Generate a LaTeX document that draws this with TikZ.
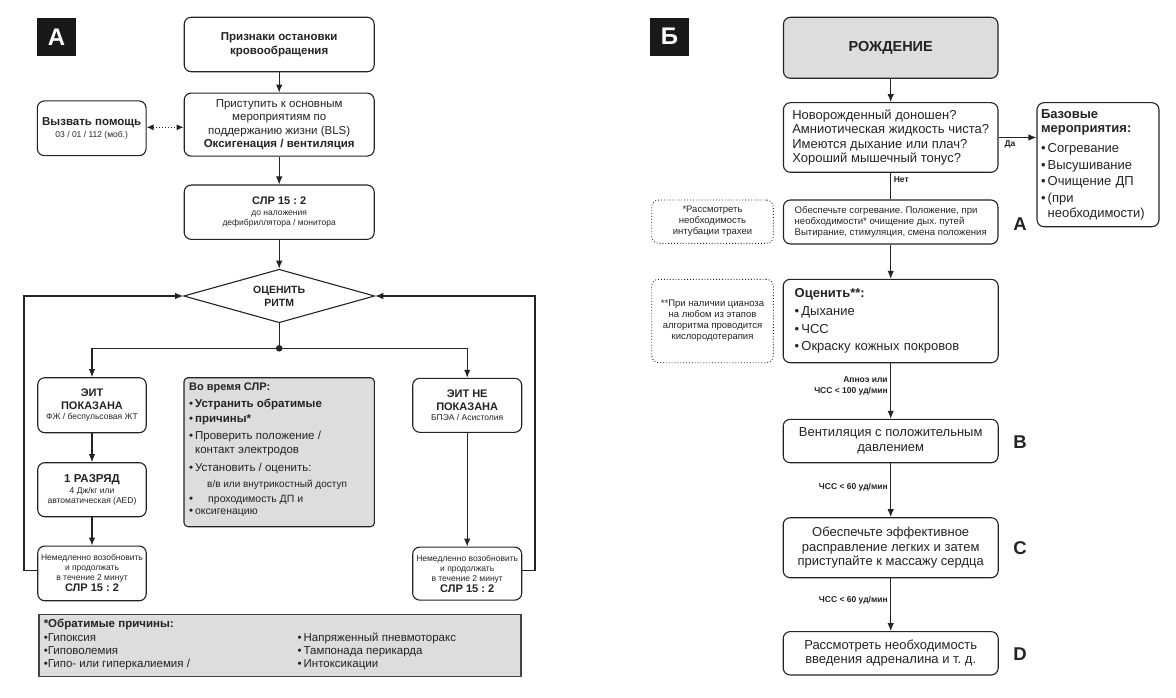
\documentclass[tikz,border=0pt]{standalone}
\usepackage{fontspec}
\setmainfont{Liberation Sans}
\usetikzlibrary{arrows.meta,shapes.geometric}
\definecolor{boxgray}{RGB}{221,221,221}
\definecolor{ink}{RGB}{35,35,35}
\newcommand\myfs[2]{\fontsize{#1}{#2}\selectfont}
\newcommand\bigb[1]{{\myfs{11}{13}\bfseries #1}}
\newcommand\bigc[1]{{\myfs{11.5}{13}\bfseries #1}}
\begin{document}
\frenchspacing
\begin{tikzpicture}[x=1pt,y=-1pt,
  box/.style={draw=ink, line width=1.1pt, rounded corners=7pt, align=center, inner sep=2pt, anchor=center, text=ink},
  dotbox/.style={draw=ink, line width=0.9pt, dotted, rounded corners=7pt, align=center, inner sep=2pt, text=ink},
  gbox/.style={box, fill=boxgray},
  arr/.style={draw=ink, line width=1.1pt, -{Latex[length=8pt,width=6.5pt]}},
  dotarr/.style={draw=ink, line width=1pt, dotted, {Latex[length=7pt,width=6pt]}-{Latex[length=7pt,width=6pt]}},
  ln/.style={draw=ink, line width=1.1pt},
  tag/.style={fill=black!90, text=white, font=\myfs{24}{24}\bfseries, minimum width=39pt, minimum height=38pt, inner sep=0pt},
  letter/.style={font=\myfs{18.5}{18.5}\bfseries, text=ink, inner sep=0pt},
  lbl/.style={font=\myfs{8.5}{10.5}\bfseries, text=ink, inner sep=2.5pt},
  sm/.style={font=\myfs{8.5}{10}}
]
\useasboundingbox (0,0) rectangle (1176,698);

% ---------------- Panel A ----------------
\node[tag] (tA) at (56.5,37) {А};

\node[box, minimum width=190pt, minimum height=54.5pt, font=\myfs{11.5}{13.5}\bfseries] (sign) at (279.2,44.5) {Признаки остановки\\кровообращения};

\node[box, minimum width=190pt, minimum height=63pt, font=\myfs{11.5}{13.3}] (bls) at (279.2,124.6) {Приступить к основным\\мероприятиям по\\поддержанию жизни (BLS)\\\textbf{Оксигенация / вентиляция}};

\node[box, sm, minimum width=108.7pt, minimum height=54.7pt] (help) at (91.7,128.3) {\bigc{Вызвать помощь}\\[2pt]03 / 01 / 112 (моб.)};

\node[box, sm, minimum width=190pt, minimum height=54.3pt] (cpr) at (279.2,212.2) {\bigb{СЛР 15 : 2}\\[1pt]до наложения\\дефибриллятора / монитора};

\node[draw=ink, line width=1.1pt, diamond, aspect=3.57, minimum width=191pt, minimum height=53.5pt, inner sep=0pt, font=\myfs{10.5}{12.7}\bfseries, align=center, text=ink] (diam) at (279.2,296) {ОЦЕНИТЬ\\РИТМ};

\coordinate (dot) at (279.2,348.3);
\coordinate (lx) at (24,296);
\coordinate (rx) at (535,296);

\node[box, sm, minimum width=108.5pt, minimum height=55pt] (eit1) at (92,405.2) {\bigb{ЭИТ}\\[2.5pt]\bigb{ПОКАЗАНА}\\[0.5pt]ФЖ / беспульсовая ЖТ};

\node[box, sm, minimum width=108.5pt, minimum height=54pt] (shock) at (92,489.7) {\bigc{1 РАЗРЯД}\\[1pt]4 Дж/кг или\\автоматическая (AED)};

\node[box, sm, minimum width=108.5pt, minimum height=54.7pt] (imm1) at (92,573.4) {Немедленно возобновить\\и продолжать\\в течение 2 минут\\[1pt]\bigb{СЛР 15 : 2}};

\node[gbox, rounded corners=4pt, minimum width=190.4pt, minimum height=149pt, inner sep=4pt, align=left] (during) at (279.2,452.2) {\begin{minipage}[c][141pt][t]{180pt}\raggedright\myfs{11.5}{14.5}
\vspace*{1.5pt}
{\bfseries\myfs{11}{14.5}Во время СЛР:}\\[2.5pt]
•\,\textbf{Устранить обратимые}\\
•\,\textbf{причины*}\\[2.5pt]
•\,Проверить положение /\\
\hphantom{•\,}контакт электродов\\[3.5pt]
•\,Установить / оценить:\\[1.5pt]
{\myfs{10}{14.5}\hspace*{18pt}в/в или внутрикостный доступ}\\
•{\myfs{10.5}{14.5}\hspace*{15pt}проходимость ДП и}\\[-2.5pt]
•\,{\myfs{10.5}{14.5}оксигенацию}
\end{minipage}};

\node[box, sm, minimum width=109pt, minimum height=54pt] (eit2) at (467.2,405.3) {\bigb{ЭИТ НЕ}\\[2.5pt]\bigb{ПОКАЗАНА}\\[0.5pt]БПЭА / Асистолия};

\node[box, sm, minimum width=109pt, minimum height=53pt] (imm2) at (467.2,573.6) {Немедленно возобновить\\и продолжать\\в течение 2 минут\\[1pt]\bigb{СЛР 15 : 2}};

\node[draw=ink!85, line width=1.5pt, fill=boxgray, minimum width=482pt, minimum height=62pt, inner sep=0pt, anchor=north west, text=ink] (causes) at (38,613.5) {\begin{minipage}[c][58pt][c]{472pt}\myfs{11.5}{12.8}\raggedright
{\bfseries *Обратимые причины:}\par\vspace{2pt}
\noindent\begin{tabular}{@{}p{254pt}@{}l@{}}
•Гипоксия & •\,Напряженный пневмоторакс\\
•Гиповолемия & •\,Тампонада перикарда\\
•Гипо- или гиперкалиемия / & •\,Интоксикации
\end{tabular}
\end{minipage}};

% Panel A connectors
\draw[arr] (sign) -- (bls);
\draw[arr] (bls) -- (cpr);
\draw[arr] (cpr) -- (diam);
\draw[dotarr] ([yshift=1pt]help.east) -- ([yshift=1pt]help.east -| bls.west);
\draw[ln] (diam.south) -- (dot);
\fill[ink] (dot) circle (3.3pt);
\draw[arr] (dot) -| (eit1.north);
\draw[arr] (dot) -| (eit2.north);
\draw[arr] (eit1) -- (shock);
\draw[arr] (shock) -- (imm1);
\draw[arr] (eit2) -- (imm2);
\draw[arr] ([yshift=3pt]imm1.west) -| (lx) -- (diam.west);
\draw[arr] ([yshift=3pt]imm2.east) -| (rx) -- (diam.east);

% ---------------- Panel B ----------------
\node[tag] (tB) at (669.5,36.7) {Б};

\node[gbox, minimum width=214.5pt, minimum height=61pt, font=\myfs{14.5}{16}\bfseries] (birth) at (890.7,47.8) {РОЖДЕНИЕ};

\node[box, minimum width=214.5pt, minimum height=69.6pt, align=left, font=\myfs{13}{14.3}] (q) at (890.7,137.5) {Новорожденный доношен?\\Амниотическая жидкость чиста?\\Имеются дыхание или плач?\\Хороший мышечный тонус?};

\node[box, minimum width=122pt, minimum height=124pt, align=left, text width=114pt, inner xsep=4pt, font=\myfs{13}{14.4}] (base) at (1098,164.7) {\textbf{Базовые}\\\textbf{мероприятия:}\\[5pt]•\,Согревание\\[2.5pt]•\,Высушивание\\[2.5pt]•\,Очищение ДП\\[2.5pt]•\,(при\\\hphantom{•\,}необходимости)};

\node[box, minimum width=214.5pt, minimum height=44pt, align=left, font=\myfs{9.6}{10.8}] (warm) at (890.7,222) {Обеспечьте согревание. Положение, при\\необходимости* очищение дых. путей\\Вытирание, стимуляция, смена положения};

\node[dotbox, minimum width=121.6pt, minimum height=43.3pt, font=\myfs{9.5}{11}] (note1) at (712.5,221.7) {*Рассмотреть\\необходимость\\интубации трахеи};
\node[letter] (lA) at (1020,224) {A};

\node[box, minimum width=215pt, minimum height=83.4pt, align=left, text width=192pt, inner xsep=11.5pt, font=\myfs{13}{17.7}] (eval) at (890.7,321) {\textbf{Оценить**:}\\•\,Дыхание\\•\,ЧСС\\•\,Окраску кожных покровов\\[-6pt]};

\node[dotbox, minimum width=121.6pt, minimum height=83.4pt, font=\myfs{9.5}{11}] (note2) at (712.5,321) {**При наличии цианоза\\на любом из этапов\\алгоритма проводится\\кислородотерапия};

\node[box, minimum width=215pt, minimum height=43.4pt, font=\myfs{13}{14.5}] (vent) at (890.7,441) {Вентиляция с положительным\\давлением};
\node[letter] (lB) at (1020,442) {B};

\node[box, minimum width=215pt, minimum height=60pt, font=\myfs{13}{14.5}] (cbox) at (890.7,547.7) {Обеспечьте эффективное\\расправление легких и затем\\приступайте к массажу сердца};
\node[letter] (lC) at (1020,548) {C};

\node[box, minimum width=215pt, minimum height=43.4pt, font=\myfs{13}{14.5}] (dnode) at (890.7,653.3) {Рассмотреть необходимость\\введения адреналина и т. д.};
\node[letter] (lD) at (1020,654) {D};

% Panel B connectors
\draw[arr] (birth) -- (q);
\draw[arr] (q.east) -- (q.east -| base.west) node[lbl, pos=0.3, below] {Да};
\draw[ln] (q.south) -- (warm.north) node[lbl, pos=0.25, right] {Нет};
\draw[arr] (warm) -- (eval);
\draw[arr] (eval) -- (vent) node[lbl, pos=0.41, left, align=right] {Апноэ или\\ЧСС < 100 уд/мин};
\draw[arr] (vent) -- (cbox) node[lbl, pos=0.44, left] {ЧСС < 60 уд/мин};
\draw[arr] (cbox) -- (dnode) node[lbl, pos=0.41, left] {ЧСС < 60 уд/мин};
\end{tikzpicture}
\end{document}
